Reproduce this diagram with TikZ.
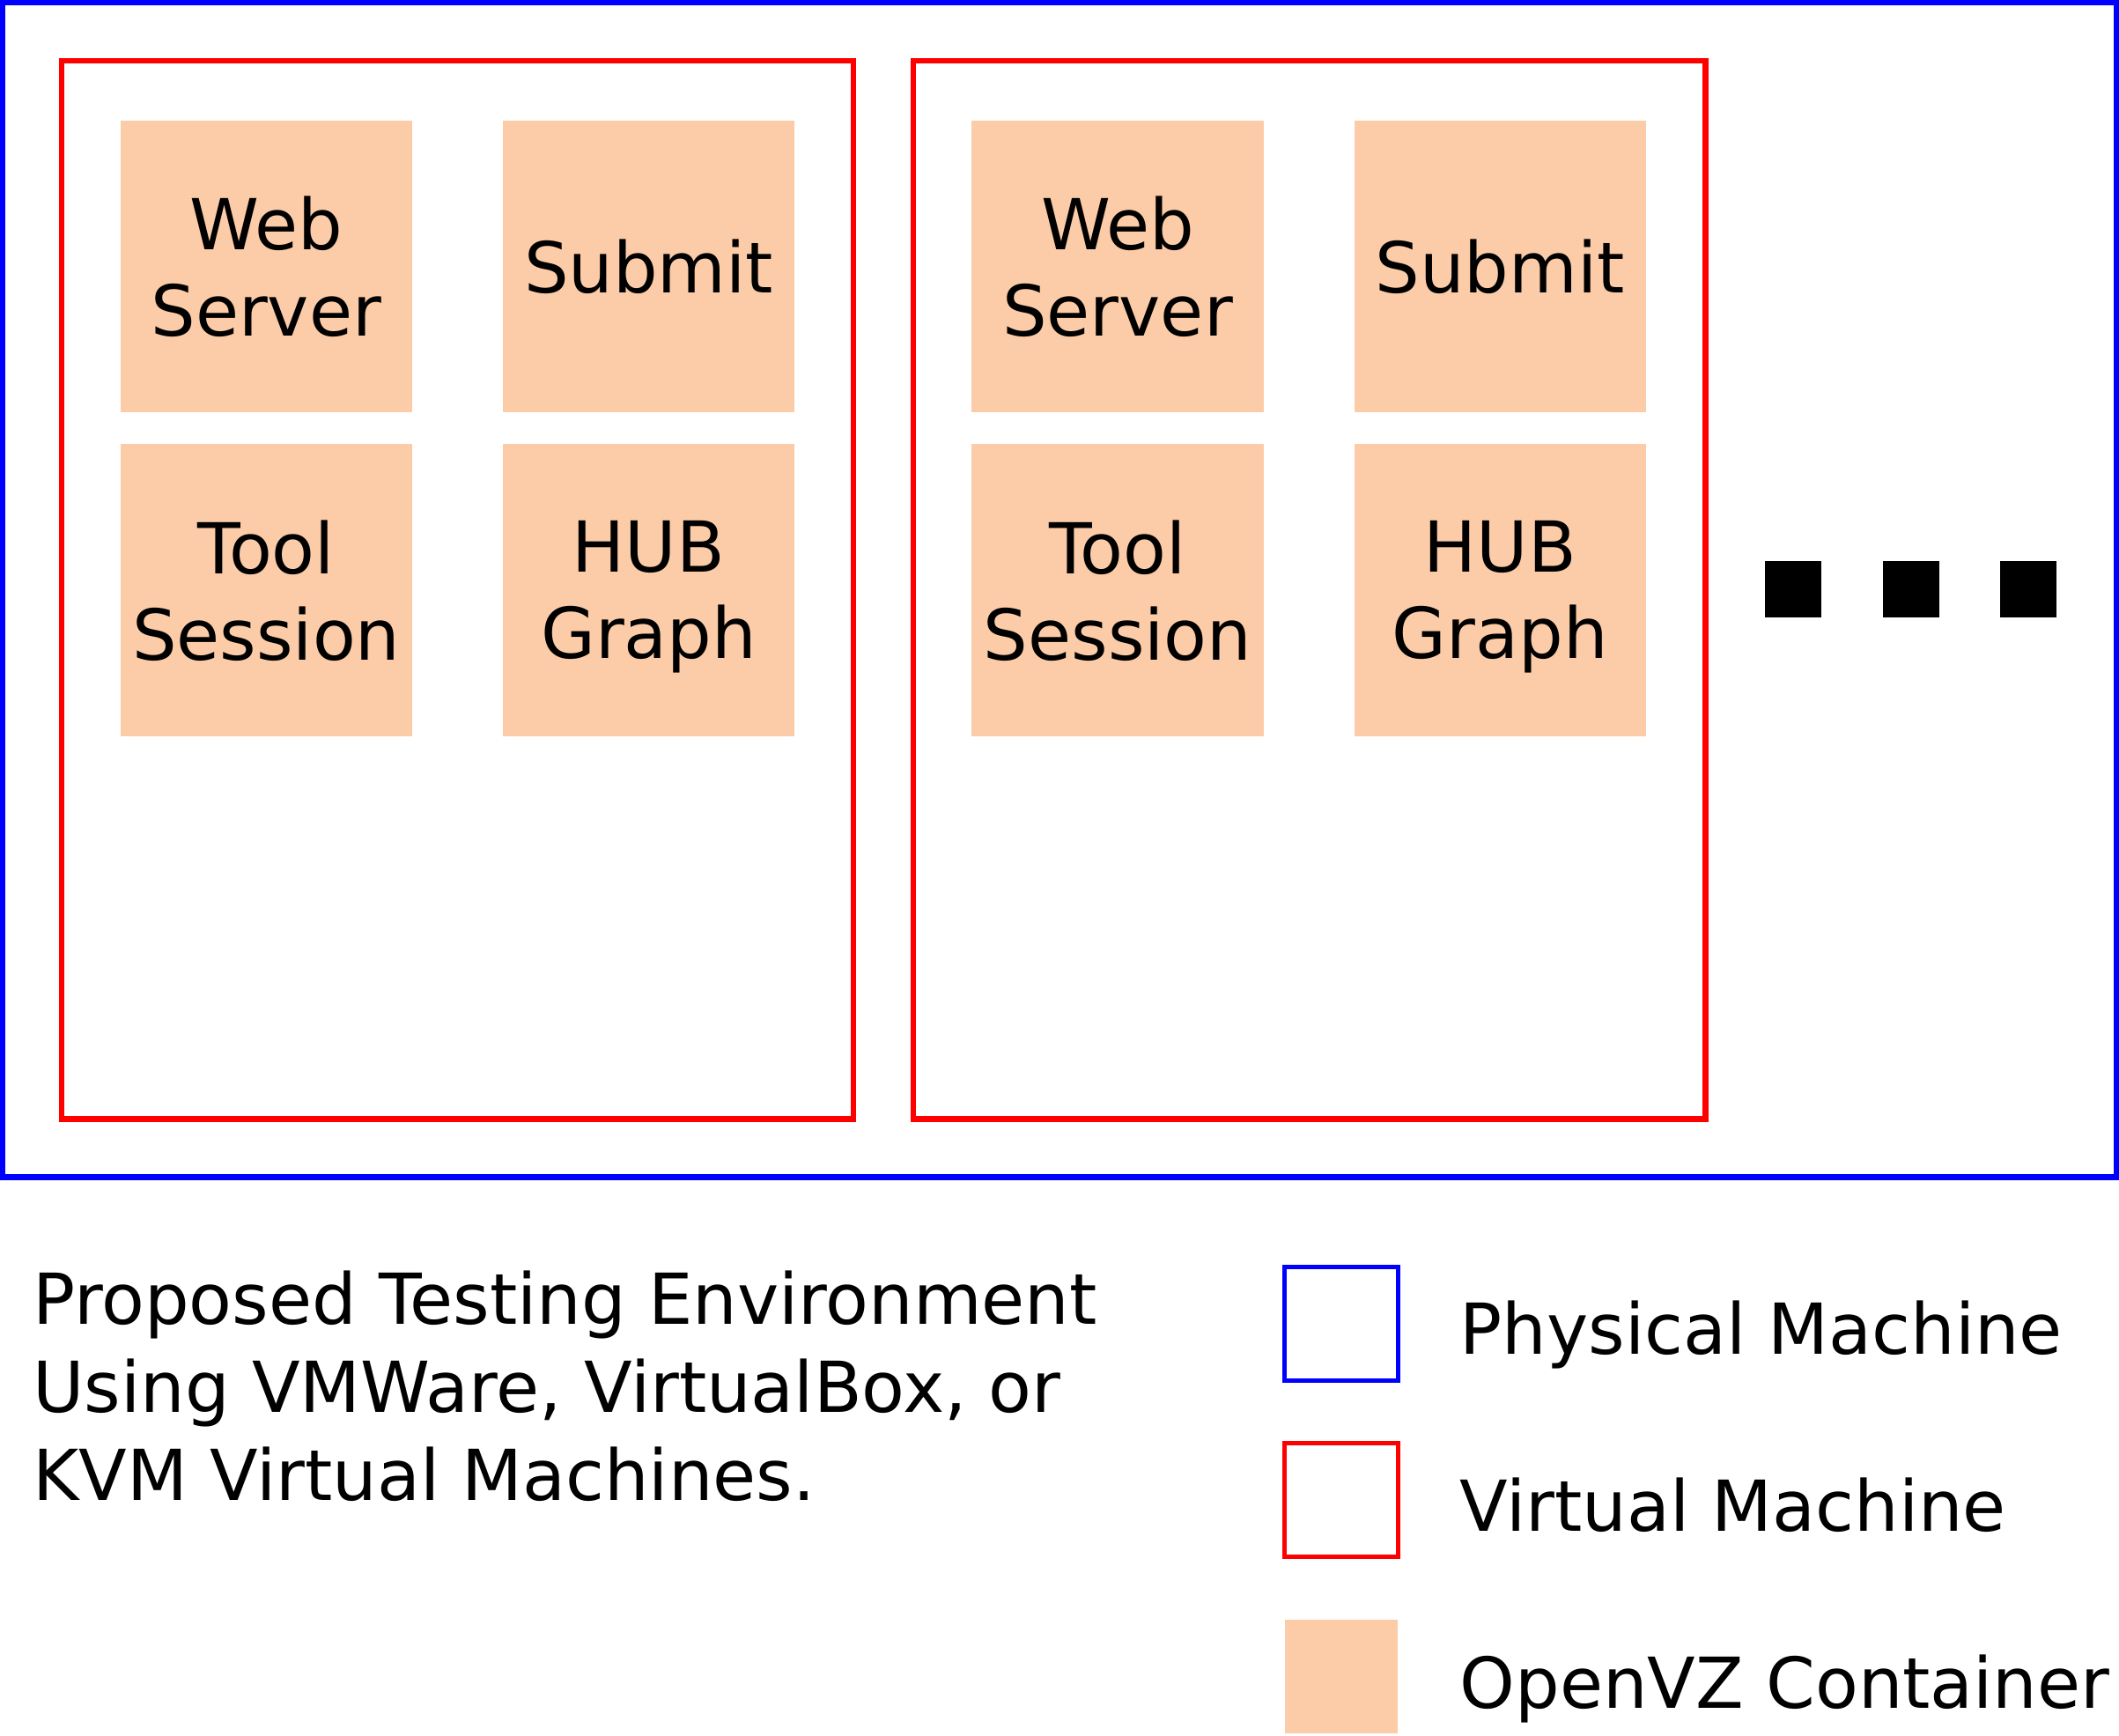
\documentclass[tikz,border=0pt]{standalone}
\usepackage{xcolor}
\usepackage{fontspec}
\setmainfont{DejaVu Sans}
\usepackage{tikz}
\usetikzlibrary{positioning}
\definecolor{openvz}{RGB}{252,204,168}
\tikzset{
host/.style = { rectangle, draw = blue, line width = 2pt, fill = none },
vm/.style = { rectangle, draw = red, line width = 2pt, fill = none, minimum width = 293pt, minimum height = 391.5pt },
container/.style = { rectangle, draw = none, fill = openvz, minimum size = 108pt, inner sep = 0pt, align = center, text depth = 0pt, font = \fontsize{26}{32}\selectfont },
more/.style = { rectangle, draw = none, fill = black, minimum size = 21pt, inner sep = 0pt },
key/.style = { rectangle, line width = 1.6pt, minimum size = 42pt, inner sep = 0pt },
keytext/.style = { anchor = base west, inner sep = 0pt, font = \fontsize{26}{32}\selectfont },
}
\begin{document}
\begin{tikzpicture}[x = 0.5pt, y = -0.5pt]
    \useasboundingbox (0, 0) rectangle (1568, 1284);
    % physical machine
    \draw[host] (2, 2) rectangle (1566, 871);
    % virtual machines
    \node[vm] (vm1) at (338.5, 436.5) {};
    \node[vm] (vm2) at (969, 436.5) {};
    % containers
    \node[container] (web1) at (197, 197) {Web\\Server};
    \node[container] (submit1) at (480, 197) {Submit};
    \node[container] (tool1) at (197, 436.5) {Tool\\Session};
    \node[container] (hub1) at (480, 436.5) {HUB\\Graph};
    \node[container] (web2) at (827, 197) {Web\\Server};
    \node[container] (submit2) at (1110, 197) {Submit};
    \node[container] (tool2) at (827, 436.5) {Tool\\Session};
    \node[container] (hub2) at (1110, 436.5) {HUB\\Graph};
    % more machines
    \node[more] (dot1) at (1327, 436) {};
    \node[more] (dot2) at (1414, 436) {};
    \node[more] (dot3) at (1501, 436) {};
    % caption
    \node[keytext, align = left, font = \fontsize{26}{32.5}\selectfont] (caption) at (24, 1110) {Proposed Testing Environment\\Using VMWare, VirtualBox, or\\KVM Virtual Machines.};
    % legend
    \node[key, draw = blue] (keyhost) at (992.5, 979.5) {};
    \node[key, draw = red] (keyvm) at (992.5, 1110) {};
    \node[key, fill = openvz, line width = 0pt] (keyct) at (992.5, 1240.5) {};
    \node[keytext] (hosttext) at (1080, 1002) {Physical Machine};
    \node[keytext] (vmtext) at (1080, 1133) {Virtual Machine};
    \node[keytext] (cttext) at (1080, 1264) {OpenVZ Container};
\end{tikzpicture}
\end{document}
